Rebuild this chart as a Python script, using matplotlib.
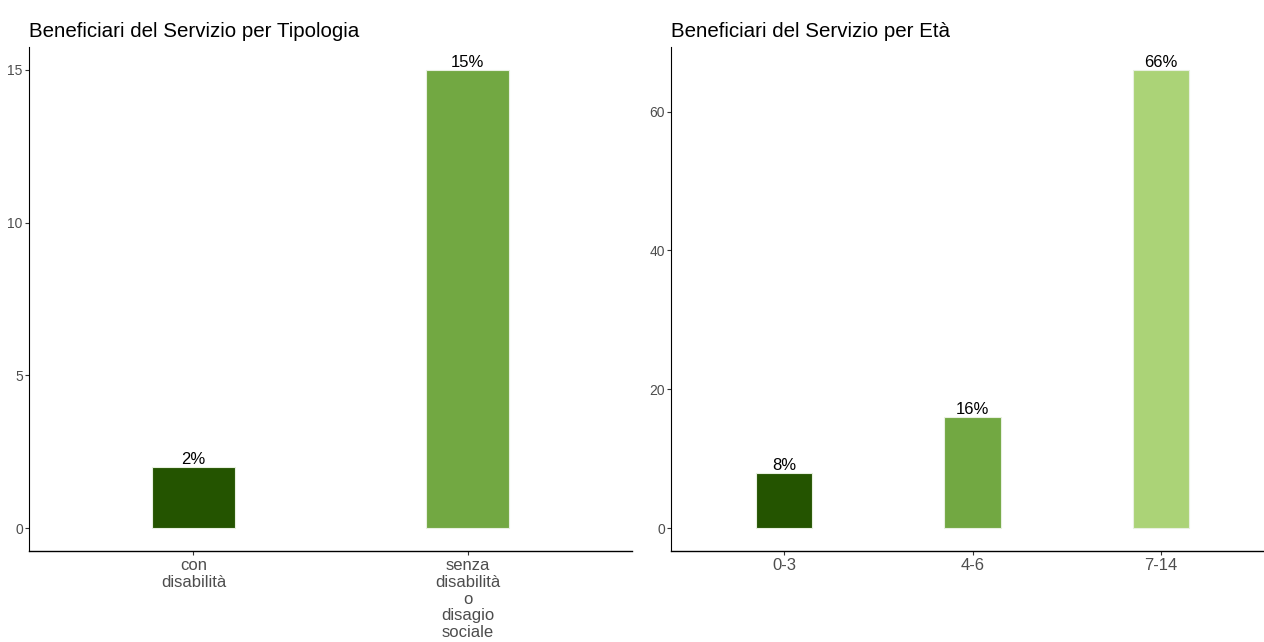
import matplotlib.pyplot as plt

# data
tip_labels = ["con\ndisabilità", "senza\ndisabilità\no\ndisagio\nsociale"]
tip_values = [2, 15]
eta_labels = ["0-3", "4-6", "7-14"]
eta_values = [8, 16, 66]

greens = ["#245400", "#72a842", "#abd377"]

plt.rcParams['font.family'] = ['Liberation Sans', 'DejaVu Sans']

fig = plt.figure(figsize=(12.64, 6.42), dpi=100)
W, H = 1264, 642
ax1 = fig.add_axes([29 / W, (H - 551) / H, 603 / W, 504 / H])
ax2 = fig.add_axes([671 / W, (H - 551) / H, 603 / W, 504 / H])


def draw(ax, labels, values, title, yticks):
    x = list(range(1, len(values) + 1))
    ax.bar(x, values, width=0.3, color=greens[:len(values)],
           edgecolor="#e8f0e0", linewidth=0.8)
    for xi, v in zip(x, values):
        ax.text(xi, v, f"{v}%", ha="center", va="bottom", fontsize=12,
                color="black")
    ymax = max(values)
    ax.set_ylim(-0.05 * ymax, 1.05 * ymax)
    ax.set_xlim(0.4, len(values) + 0.6)
    ax.set_xticks(x)
    ax.set_xticklabels(labels, fontsize=12, color="#4d4d4d", linespacing=1.15)
    ax.set_yticks(yticks)
    ax.tick_params(axis="y", labelsize=10, labelcolor="#4d4d4d", color="#333333",
                   length=3, width=0.8, pad=1.5)
    ax.tick_params(axis="x", color="#333333", length=3, width=0.8, pad=2)
    for s in ["top", "right"]:
        ax.spines[s].set_visible(False)
    ax.spines["left"].set_linewidth(0.8)
    ax.spines["bottom"].set_linewidth(1.0)
    ax.set_title(title, loc="left", fontsize=14.8, pad=7, color="black")


draw(ax1, tip_labels, tip_values, "Beneficiari del Servizio per Tipologia",
     [0, 5, 10, 15])
draw(ax2, eta_labels, eta_values, "Beneficiari del Servizio per Età",
     [0, 20, 40, 60])

fig.savefig("out.png", dpi=100)
